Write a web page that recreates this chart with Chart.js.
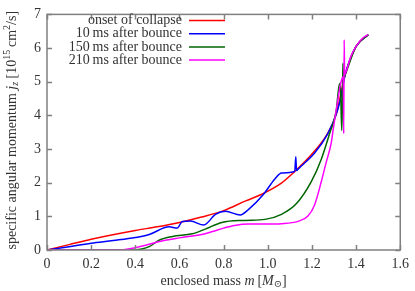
<!DOCTYPE html>
<html>
<head>
<meta charset="utf-8">
<script src="https://cdn.jsdelivr.net/npm/chart.js@4/dist/chart.umd.min.js"></script>
<style>
  html, body { margin: 0; padding: 0; background: #fff; }
  #wrap { width: 415px; height: 291px; }
</style>
</head>
<body>
<div id="wrap"><canvas id="chart" width="415" height="291"></canvas></div>
<script>
(function () {
    'use strict';

    /* ── Data ──────────────────────────────────────────────── */
    const LABELS = ['onset of collapse', '10\u2009ms after bounce', '150\u2009ms after bounce', '210\u2009ms after bounce'];
    const COLORS = ['#ff0000', '#0000ff', '#006400', '#ff00ff'];

    const X_TICKS = [0, 0.2, 0.4, 0.6, 0.8, 1, 1.2, 1.4, 1.6];
    const Y_TICKS = [0, 1, 2, 3, 4, 5, 6, 7];

    // onset of collapse
    const redM = [0, 0.1, 0.2, 0.4, 0.5, 0.6, 0.7, 0.8, 0.9, 0.97, 1.06, 1.12, 1.2, 1.27, 1.31, 1.35, 1.4, 1.455];
    const redJ = [0, 0.16, 0.32, 0.58, 0.69, 0.82, 0.98, 1.17, 1.46, 1.65, 1.98, 2.32, 2.85, 3.45, 4.03, 5.2, 6.05, 6.4];

    // 10 ms after bounce
    const blueM = [0, 0.1, 0.2, 0.3, 0.4, 0.463, 0.553, 0.59, 0.613, 0.65, 0.71, 0.763, 0.808, 0.875, 0.912, 0.98, 1.032, 1.062, 1.122, 1.127, 1.13, 1.133, 1.137, 1.212, 1.272, 1.31, 1.33, 1.35, 1.4, 1.455];
    const blueJ = [0, 0.1, 0.2, 0.28, 0.37, 0.46, 0.69, 0.65, 0.85, 0.86, 0.74, 1.06, 1.15, 1.04, 1.2, 1.65, 2.11, 2.29, 2.33, 2.77, 2.36, 2.37, 2.4, 2.88, 3.46, 4.03, 4.5, 5.2, 6.05, 6.4];

    // 150 ms after bounce
    const greenM = [0, 0.38, 0.43, 0.463, 0.508, 0.568, 0.658, 0.717, 0.792, 0.897, 0.987, 1.062, 1.13, 1.197, 1.242, 1.28, 1.31, 1.325, 1.33, 1.335, 1.338, 1.34, 1.343, 1.35, 1.4, 1.455];
    const greenJ = [0, 0, 0.03, 0.1, 0.29, 0.4, 0.48, 0.62, 0.82, 0.88, 0.91, 1.06, 1.38, 2.03, 2.69, 3.46, 4.13, 4.95, 4.7, 3.55, 4.3, 5.55, 5.1, 5.2, 6.05, 6.4];

    // 210 ms after bounce
    const pinkM = [0, 0.33, 0.4, 0.45, 0.5, 0.6, 0.7, 0.75, 0.8, 0.85, 0.912, 1.0, 1.062, 1.137, 1.182, 1.212, 1.242, 1.264, 1.287, 1.3, 1.314, 1.33, 1.342, 1.344, 1.346, 1.348, 1.354, 1.377, 1.4, 1.429, 1.455];
    const pinkJ = [0, 0, 0.07, 0.15, 0.24, 0.36, 0.46, 0.55, 0.65, 0.73, 0.77, 0.77, 0.78, 0.85, 1.01, 1.34, 2.02, 2.59, 3.17, 3.75, 4.32, 4.95, 5.15, 3.46, 6.24, 5.2, 5.28, 5.76, 6.05, 6.29, 6.4];

    const SERIES = [[redM, redJ], [blueM, blueJ], [greenM, greenJ], [pinkM, pinkJ]];

    /* ── Style ─────────────────────────────────────────────── */
    const FONT = "'Liberation Serif', 'DejaVu Serif', serif";
    const FS = 14;
    const TEXT = '#333333';
    const FRAME = '#808080';

    const pts = (xs, ys) => xs.map((x, i) => ({ x: x, y: ys[i] }));

    /* ── Frame with inward ticks on all four sides ─────────── */
    const framePlugin = {
        id: 'frame',
        afterDatasetsDraw(chart) {
            const { ctx, chartArea: a, scales } = chart;
            ctx.save();
            ctx.strokeStyle = FRAME;
            ctx.lineWidth = 1.5;
            ctx.beginPath();
            X_TICKS.forEach(v => {
                const px = Math.round(scales.x.getPixelForValue(v)) + 0.5;
                ctx.moveTo(px, a.bottom); ctx.lineTo(px, a.bottom - 5);
                ctx.moveTo(px, a.top); ctx.lineTo(px, a.top + 5);
            });
            Y_TICKS.forEach(v => {
                const py = Math.round(scales.y.getPixelForValue(v)) + 0.5;
                ctx.moveTo(a.left, py); ctx.lineTo(a.left + 5, py);
                ctx.moveTo(a.right, py); ctx.lineTo(a.right - 5, py);
            });
            ctx.stroke();
            ctx.strokeRect(a.left, a.top, a.right - a.left, a.bottom - a.top);
            ctx.restore();
        }
    };

    /* ── Rich text helper (italic / super / subscripts) ────── */
    function segFont(s) {
        return (s.i ? 'italic ' : '') + (s.small ? 10 : FS) + 'px ' + FONT;
    }
    function richWidth(ctx, segs) {
        let w = 0;
        segs.forEach(s => { ctx.font = segFont(s); w += ctx.measureText(s.t).width; });
        return w;
    }
    function drawRich(ctx, segs, x, y) {
        let cx = x;
        segs.forEach(s => {
            ctx.font = segFont(s);
            const dy = s.sup ? -5 : (s.sub ? 3 : 0);
            ctx.fillText(s.t, cx, y + dy);
            cx += ctx.measureText(s.t).width;
        });
    }

    const Y_TITLE = [
        { t: 'specific angular momentum ' }, { t: 'j', i: true }, { t: 'z', i: true, small: true, sub: true },
        { t: ' [10' }, { t: '15', small: true, sup: true }, { t: '\u2009cm' }, { t: '2', small: true, sup: true }, { t: '/s]' }
    ];
    const X_TITLE = [
        { t: 'enclosed mass ' }, { t: 'm', i: true }, { t: '\u2009[' }, { t: 'M', i: true }, { t: '\u2299', small: true, sub: true }, { t: ']' }
    ];

    const titlesPlugin = {
        id: 'titles',
        afterDraw(chart) {
            const { ctx, chartArea: a } = chart;
            ctx.save();
            ctx.fillStyle = TEXT;
            ctx.textBaseline = 'middle';
            ctx.textAlign = 'left';
            // x title
            const wx = richWidth(ctx, X_TITLE);
            drawRich(ctx, X_TITLE, (a.left + a.right) / 2 - wx / 2, 281);
            // y title, rotated
            const wy = richWidth(ctx, Y_TITLE);
            ctx.translate(12, (a.top + a.bottom) / 2 - 2);
            ctx.rotate(-Math.PI / 2);
            drawRich(ctx, Y_TITLE, -wy / 2, 0);
            ctx.restore();

            // legend: right-aligned text with sample line
            ctx.save();
            ctx.font = FS + 'px ' + FONT;
            ctx.textAlign = 'right';
            ctx.textBaseline = 'middle';
            LABELS.forEach((lab, i) => {
                const y = 20.5 + i * 13.2;
                ctx.fillStyle = TEXT;
                ctx.fillText(lab, 182, y);
                ctx.strokeStyle = COLORS[i];
                ctx.lineWidth = 1.5;
                ctx.beginPath();
                ctx.moveTo(189, y); ctx.lineTo(225, y);
                ctx.stroke();
            });
            ctx.restore();
        }
    };

    /* ── Chart ─────────────────────────────────────────────── */
    new Chart(document.getElementById('chart'), {
        type: 'line',
        data: {
            datasets: SERIES.map((s, i) => ({
                label: LABELS[i],
                data: pts(s[0], s[1]),
                borderColor: COLORS[i],
                backgroundColor: COLORS[i],
                borderWidth: 1.5,
                pointRadius: 0,
                fill: false,
                cubicInterpolationMode: 'monotone',
                order: SERIES.length - i,
            }))
        },
        options: {
            responsive: false,
            animation: false,
            events: [],
            layout: { padding: { top: 7, right: 11, left: 0, bottom: 0 } },
            plugins: { legend: { display: false }, tooltip: { enabled: false } },
            scales: {
                x: {
                    type: 'linear',
                    min: 0, max: 1.6,
                    afterBuildTicks: (sc) => { sc.ticks = X_TICKS.map(v => ({ value: v })); },
                    afterFit: (sc) => { sc.height = 41; },
                    grid: { display: false, drawTicks: false },
                    border: { display: false },
                    ticks: { color: TEXT, padding: 6, maxRotation: 0, font: { family: FONT, size: FS } }
                },
                y: {
                    type: 'linear',
                    min: 0, max: 7,
                    afterBuildTicks: (sc) => { sc.ticks = Y_TICKS.map(v => ({ value: v })); },
                    afterFit: (sc) => { sc.width = 47; },
                    grid: { display: false, drawTicks: false },
                    border: { display: false },
                    ticks: { color: TEXT, padding: 6, font: { family: FONT, size: FS } }
                }
            }
        },
        plugins: [framePlugin, titlesPlugin]
    });
})();
</script>
</body>
</html>
